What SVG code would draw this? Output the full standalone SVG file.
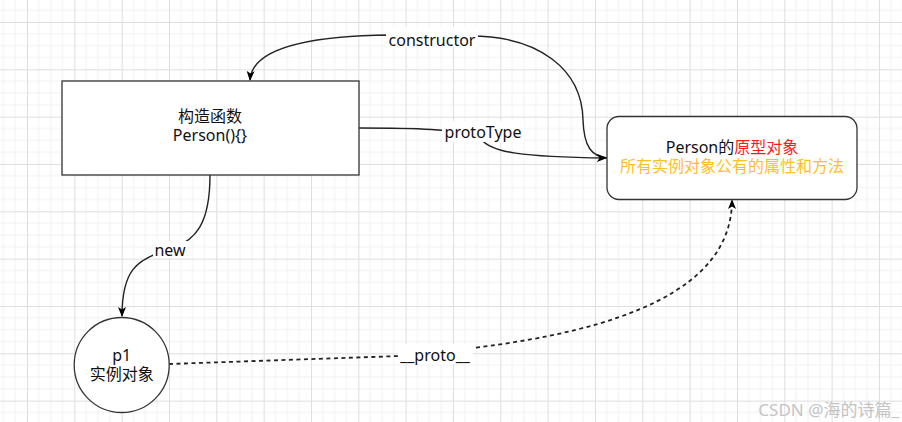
<svg xmlns="http://www.w3.org/2000/svg" width="902" height="422" viewBox="0 0 902 422">
  <defs>
    <pattern id="grid" patternUnits="userSpaceOnUse" x="27" y="22" width="47.33" height="47.33">
      <path d="M11.83 0V47.33M23.67 0V47.33M35.5 0V47.33M0 11.83H47.33M0 23.67H47.33M0 35.5H47.33" stroke="#f1f1f1" stroke-width="1" fill="none"/>
      <path d="M0.5 0V47.33M0 0.5H47.33" stroke="#dedede" stroke-width="1" fill="none"/>
    </pattern>
    <marker id="arrow" viewBox="0 0 10 8" refX="9" refY="4" markerWidth="10" markerHeight="8" markerUnits="userSpaceOnUse" orient="auto">
      <path d="M0 0L10 4L0 8L2.5 4Z" fill="#000"/>
    </marker>
    <style>
      .t{font-family:"Noto Sans","Noto Sans CJK SC",sans-serif;font-size:16px;fill:#111;text-anchor:middle}
      .lbl{font-family:"Noto Sans","Noto Sans CJK SC",sans-serif;font-size:16px;fill:#111;text-anchor:middle}
      .edge{fill:none;stroke:#222;stroke-width:1.4}
      .dash{stroke-dasharray:4 3.5;stroke-width:1.8}
      .node{fill:#fff;stroke:#333;stroke-width:1.3}
    </style>
  </defs>
  <rect width="902" height="422" fill="#fff"/>
  <rect width="902" height="422" fill="url(#grid)"/>

  <g id="connectors">
    <path class="edge" d="M607 158 C592 156 584 148 583 120 C582 70 540 36 470 36 L390 35 C300 36 252 50 250 80" marker-end="url(#arrow)"/>
    <path class="edge" d="M359 128 C400 128 470 128 482 140 C492 152 520 157 606 158" marker-end="url(#arrow)"/>
    <path class="edge" d="M210 175 C210 225 195 240 172 249 C135 258 122 272 122 316" marker-end="url(#arrow)"/>
    <path class="edge dash" d="M169 364 L400 356 C420 355 450 350 473 348 C620 330 732 290 732 200" marker-end="url(#arrow)"/>
    <rect x="386" y="27" width="92" height="20" fill="#fff"/>
    <text class="lbl" x="432" y="46">constructor</text>
    <rect x="442" y="121" width="82" height="21" fill="#fff"/>
    <text class="lbl" x="483" y="138">protoType</text>
    <rect x="153" y="241" width="35" height="17" fill="#fff"/>
    <text class="lbl" x="170" y="256">new</text>
    <rect x="398" y="344" width="75" height="20" fill="#fff"/>
    <text class="lbl" x="435" y="361">__proto__</text>
  </g>

  <g id="constructor-node">
    <rect class="node" x="62" y="81" width="297" height="94"/>
    <text class="t" x="210" y="122">构造函数</text>
    <text class="t" x="210" y="141">Person(){}</text>
  </g>

  <g id="prototype-node">
    <rect class="node" x="607" y="116.5" width="250" height="83" rx="12" ry="12"/>
    <text class="t" x="732" y="153">Person的<tspan fill="#ff1a1a">原型对象</tspan></text>
    <text class="t" x="732" y="172" style="fill:#ffbf1f">所有实例对象公有的属性和方法</text>
  </g>

  <g id="instance-node">
    <circle class="node" cx="121.7" cy="365" r="47.5"/>
    <text class="t" x="121.7" y="361">p1</text>
    <text class="t" x="121.7" y="380">实例对象</text>
  </g>

  <text x="899" y="416" font-family="'Noto Sans','Noto Sans CJK SC',sans-serif" font-size="17px" fill="#c4c4c4" text-anchor="end">CSDN @海的诗篇_</text>
</svg>
